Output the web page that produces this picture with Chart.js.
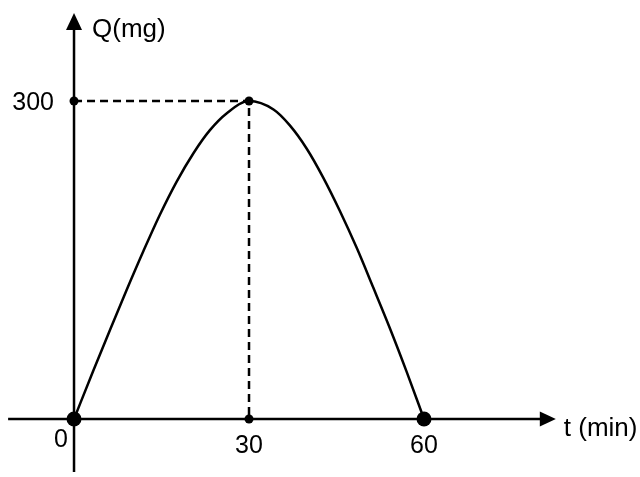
<!DOCTYPE html>
<html>
<head>
<meta charset="utf-8">
<script src="https://cdn.jsdelivr.net/npm/chart.js@4/dist/chart.umd.min.js"></script>
<style>
  html, body { margin: 0; padding: 0; background: #fff; }
  #wrap { width: 640px; height: 477px; }
</style>
</head>
<body>
<div id="wrap"><canvas id="c" width="640" height="477"></canvas></div>
<script>
// Amount of drug Q (mg) over time t (min)
const timeMin = [0, 3.3, 6.2, 9.0, 11.9, 14.7, 17.6, 20.5, 23.3, 26.2, 30, 34.2, 37.0, 39.9, 42.7, 45.6, 48.5, 51.3, 54.2, 57.0, 60];
const amountMg = [0, 45.5, 84.5, 121.5, 158.5, 192.5, 224, 251, 272.5, 288.5, 300, 292, 277, 255, 228, 196, 161, 124, 85, 45, 0];

// Marked points
const peakT = 30;
const peakQ = 300;
const endT = 60;

// Tick labels written along the axes
const xTickValues = [0, 30, 60];
const xTickLabels = ['0', '30', '60'];
const yTickValues = [300];
const yTickLabels = ['300'];

// Axis titles
const xTitle = 't (min)';
const yTitle = 'Q(mg)';

// Visible extent of the drawn axes (data units)
const xAxisExtent = [-11.3, 82.6];
const yAxisExtent = [-50, 383];

const NUM_FONT = '25px "Liberation Sans", Arial, sans-serif';
const TITLE_FONT = '26px "Liberation Sans", Arial, sans-serif';

const axesPlugin = {
  id: 'mathAxes',
  beforeDatasetsDraw(chart) {
    const ctx = chart.ctx;
    const xs = chart.scales.x, ys = chart.scales.y;
    const x0 = xs.getPixelForValue(0), y0 = ys.getPixelForValue(0);
    const xa = xs.getPixelForValue(xAxisExtent[0]), xb = xs.getPixelForValue(xAxisExtent[1]);
    const ya = ys.getPixelForValue(yAxisExtent[0]), yb = ys.getPixelForValue(yAxisExtent[1]);
    ctx.save();
    ctx.strokeStyle = '#000';
    ctx.fillStyle = '#000';
    ctx.lineWidth = 2.5;
    // horizontal axis
    ctx.beginPath();
    ctx.moveTo(xa, y0);
    ctx.lineTo(xb - 10, y0);
    ctx.stroke();
    ctx.beginPath();
    ctx.moveTo(xb, y0);
    ctx.lineTo(xb - 16, y0 - 7.5);
    ctx.lineTo(xb - 16, y0 + 7.5);
    ctx.closePath();
    ctx.fill();
    // vertical axis
    ctx.beginPath();
    ctx.moveTo(x0, ya);
    ctx.lineTo(x0, yb + 10);
    ctx.stroke();
    ctx.beginPath();
    ctx.moveTo(x0, yb);
    ctx.lineTo(x0 - 8, yb + 17);
    ctx.lineTo(x0 + 8, yb + 17);
    ctx.closePath();
    ctx.fill();
    ctx.restore();
  },
  afterDraw(chart) {
    const ctx = chart.ctx;
    const xs = chart.scales.x, ys = chart.scales.y;
    const x0 = xs.getPixelForValue(0), y0 = ys.getPixelForValue(0);
    ctx.save();
    ctx.fillStyle = '#000';
    ctx.textBaseline = 'alphabetic';
    ctx.font = NUM_FONT;
    // x tick labels
    xTickValues.forEach((v, i) => {
      ctx.textAlign = 'center';
      const px = xs.getPixelForValue(v);
      if (v === 0) {
        ctx.fillText(xTickLabels[i], px - 13, y0 + 28);
      } else {
        ctx.fillText(xTickLabels[i], px, y0 + 34);
      }
    });
    // y tick labels
    yTickValues.forEach((v, i) => {
      ctx.textAlign = 'right';
      ctx.fillText(yTickLabels[i], x0 - 20, ys.getPixelForValue(v) + 9);
    });
    // axis titles
    ctx.font = TITLE_FONT;
    ctx.textAlign = 'left';
    ctx.fillText(yTitle, x0 + 18, ys.getPixelForValue(yAxisExtent[1]) + 24);
    ctx.fillText(xTitle, xs.getPixelForValue(xAxisExtent[1]) + 8, y0 + 17);
    ctx.restore();
  }
};

new Chart(document.getElementById('c'), {
  type: 'line',
  data: {
    datasets: [
      {
        label: 'Q',
        data: timeMin.map((t, i) => ({ x: t, y: amountMg[i] })),
        borderColor: '#000',
        borderWidth: 2.5,
        pointRadius: 0,
        cubicInterpolationMode: 'monotone',
        fill: false
      },
      {
        label: 'guides',
        data: [{ x: 0, y: peakQ }, { x: peakT, y: peakQ }, { x: peakT, y: 0 }],
        borderColor: '#000',
        borderWidth: 2.5,
        borderDash: [8, 5],
        pointRadius: 0,
        tension: 0,
        fill: false
      },
      {
        label: 'small marks',
        data: [{ x: 0, y: peakQ }, { x: peakT, y: peakQ }, { x: peakT, y: 0 }],
        showLine: false,
        pointRadius: 4.5,
        pointBackgroundColor: '#000',
        pointBorderColor: '#000',
        pointBorderWidth: 0
      },
      {
        label: 'large marks',
        data: [{ x: 0, y: 0 }, { x: endT, y: 0 }],
        showLine: false,
        pointRadius: 7.5,
        pointBackgroundColor: '#000',
        pointBorderColor: '#000',
        pointBorderWidth: 0
      }
    ]
  },
  options: {
    responsive: false,
    animation: false,
    events: [],
    layout: { padding: 0, autoPadding: false },
    plugins: { legend: { display: false }, tooltip: { enabled: false } },
    scales: {
      x: { type: 'linear', min: -12.69, max: 97.03, display: false },
      y: { type: 'linear', min: -54.7, max: 395.3, display: false }
    }
  },
  plugins: [axesPlugin]
});
</script>
</body>
</html>
